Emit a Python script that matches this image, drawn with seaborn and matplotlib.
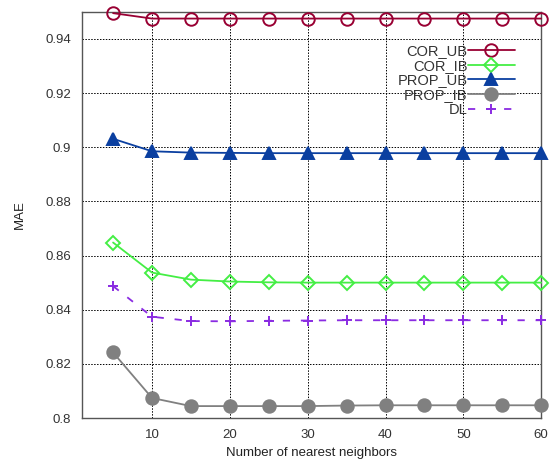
import matplotlib
matplotlib.use("Agg")
import matplotlib.pyplot as plt
import seaborn as sns
import pandas as pd

k = [5, 10, 15, 20, 25, 30, 35, 40, 45, 50, 55, 60]
cor_ub = [0.9495, 0.9475, 0.9475, 0.9475, 0.9475, 0.9475, 0.9475, 0.9475, 0.9475, 0.9475, 0.9475, 0.9475]
cor_ib = [0.8648, 0.8537, 0.8511, 0.8504, 0.8501, 0.8500, 0.8500, 0.8500, 0.8500, 0.8500, 0.8500, 0.8500]
prop_ub = [0.9031, 0.8985, 0.8980, 0.8979, 0.8978, 0.8978, 0.8978, 0.8978, 0.8978, 0.8978, 0.8978, 0.8978]
prop_ib = [0.8242, 0.8074, 0.8044, 0.8044, 0.8044, 0.8044, 0.8046, 0.8047, 0.8047, 0.8047, 0.8047, 0.8047]
dl = [0.8487, 0.8374, 0.8358, 0.8357, 0.8359, 0.8360, 0.8361, 0.8361, 0.8361, 0.8361, 0.8361, 0.8361]

sns.set_style("white")
plt.rcParams['font.family'] = ['Liberation Sans', 'DejaVu Sans']

fig = plt.figure(figsize=(5.5, 4.59), dpi=100)
ax = fig.add_axes([0.149, 0.0893, 0.835, 0.885])

series = [
    ("COR_UB", cor_ub, "#990033", "o", "none", "-", 9),
    ("COR_IB", cor_ib, "#44ee44", "D", "none", "-", 7),
    ("PROP_UB", prop_ub, "#0a3fa0", "^", "#0a3fa0", "-", 8),
    ("PROP_IB", prop_ib, "#808080", "o", "#808080", "-", 9),
    ("DL", dl, "#8a2be2", "+", "#8a2be2", (0, (4, 6)), 7),
]

for name, vals, col, mk, fc, ls, ms in series:
    df = pd.DataFrame({"k": k, "MAE": vals})
    sns.lineplot(data=df, x="k", y="MAE", ax=ax, color=col, marker=mk,
                 markerfacecolor=fc, markeredgecolor=col, markersize=ms,
                 markeredgewidth=1.4, linewidth=1.3, linestyle=ls, label=name,
                 clip_on=False, zorder=3)

ax.set_xlim(1, 60)
ax.set_ylim(0.8, 0.95)
ax.set_xticks([10, 20, 30, 40, 50, 60])
ax.set_yticks([0.8, 0.82, 0.84, 0.86, 0.88, 0.9, 0.92, 0.94])
ax.set_yticklabels(["0.8", "0.82", "0.84", "0.86", "0.88", "0.9", "0.92", "0.94"])
ax.grid(True, color="black", linestyle=(0, (1.5, 1.5)), linewidth=0.7)
ax.tick_params(axis="both", labelsize=9.5, colors="#333333", length=0, pad=8)
ax.set_xlabel("Number of nearest neighbors", fontsize=9.5, color="#222222")
ax.set_ylabel("MAE", fontsize=9.5, color="#222222", labelpad=14)
for s in ax.spines.values():
    s.set_color("#555555")
    s.set_linewidth(1.0)

leg = ax.legend(loc="upper right", bbox_to_anchor=(0.955, 0.935), frameon=False,
                markerfirst=False, fontsize=10.5, handlelength=3.2,
                labelspacing=0.05, handletextpad=0.05, borderaxespad=0)
for t in leg.get_texts():
    t.set_color("#333333")
    t.set_ha("right")

fig.savefig("out.png", dpi=100)
